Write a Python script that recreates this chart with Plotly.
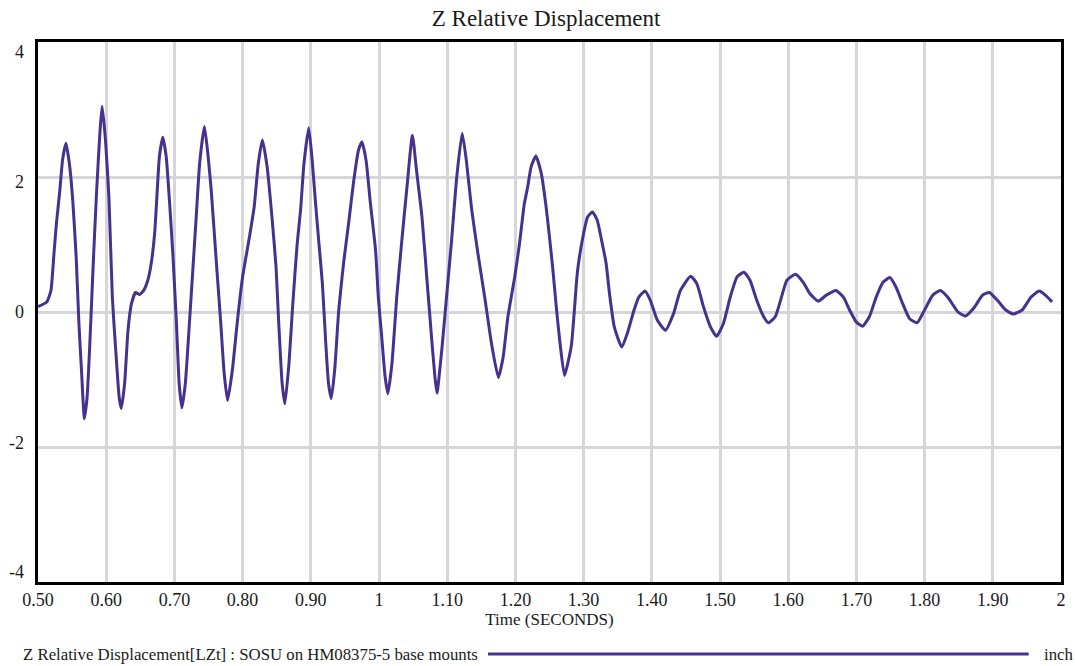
import plotly.graph_objects as go

# Time samples (s) and Z relative displacement (inch)
time_s = [
    0.500, 0.513, 0.519, 0.523, 0.527, 0.532, 0.536, 0.541, 0.546, 0.551,
    0.556, 0.560, 0.564, 0.568, 0.572, 0.576, 0.581, 0.586, 0.591, 0.594,
    0.599, 0.604, 0.609, 0.614, 0.619, 0.622, 0.627, 0.632, 0.637, 0.643,
    0.649, 0.655, 0.661, 0.666, 0.671, 0.674, 0.678, 0.683, 0.688, 0.693,
    0.698, 0.703, 0.707, 0.711, 0.716, 0.722, 0.727, 0.732, 0.737, 0.744,
    0.749, 0.754, 0.761, 0.768, 0.773, 0.778, 0.785, 0.792, 0.800, 0.810,
    0.817, 0.823, 0.829, 0.836, 0.843, 0.849, 0.853, 0.858, 0.862, 0.868,
    0.873, 0.880, 0.885, 0.890, 0.897, 0.902, 0.907, 0.912, 0.917, 0.922,
    0.926, 0.930, 0.935, 0.941, 0.948, 0.956, 0.963, 0.970, 0.975, 0.981,
    0.987, 0.995, 0.999, 1.004, 1.009, 1.013, 1.019, 1.026, 1.033, 1.041,
    1.049, 1.055, 1.063, 1.070, 1.077, 1.082, 1.085, 1.092, 1.099, 1.106,
    1.114, 1.122, 1.128, 1.136, 1.145, 1.155, 1.165, 1.175, 1.182, 1.189,
    1.199, 1.206, 1.213, 1.218, 1.223, 1.230, 1.238, 1.245, 1.250, 1.255,
    1.260, 1.265, 1.272, 1.282, 1.291, 1.299, 1.306, 1.313, 1.320, 1.325,
    1.333, 1.338, 1.345, 1.356, 1.364, 1.374, 1.381, 1.390, 1.398, 1.408,
    1.420, 1.432, 1.442, 1.457, 1.466, 1.476, 1.486, 1.495, 1.505, 1.515,
    1.525, 1.535, 1.544, 1.554, 1.564, 1.571, 1.581, 1.591, 1.598, 1.611,
    1.622, 1.632, 1.644, 1.656, 1.670, 1.681, 1.690, 1.700, 1.709, 1.719,
    1.729, 1.739, 1.749, 1.758, 1.768, 1.778, 1.789, 1.800, 1.812, 1.823,
    1.834, 1.849, 1.860, 1.873, 1.885, 1.895, 1.907, 1.919, 1.930, 1.943,
    1.956, 1.968, 1.977, 1.987,
]
z_disp = [
    0.08, 0.15, 0.32, 0.81, 1.31, 1.80, 2.25, 2.50, 2.20, 1.65,
    0.81, -0.17, -0.91, -1.58, -1.26, -0.47, 0.72, 1.80, 2.69, 3.05,
    2.54, 1.70, 0.22, -0.57, -1.26, -1.43, -1.06, -0.27, 0.12, 0.29,
    0.26, 0.32, 0.47, 0.72, 1.16, 1.65, 2.30, 2.59, 2.30, 1.61,
    0.81, -0.17, -1.06, -1.42, -1.06, -0.17, 0.62, 1.41, 2.20, 2.75,
    2.35, 1.80, 0.81, -0.17, -0.91, -1.31, -0.86, -0.17, 0.52, 1.11,
    1.56, 2.20, 2.55, 2.15, 1.41, 0.67, -0.17, -1.06, -1.36, -0.76,
    0.03, 1.01, 1.51, 2.20, 2.73, 2.25, 1.61, 1.01, 0.42, -0.47,
    -1.06, -1.28, -0.86, 0.03, 0.72, 1.36, 1.95, 2.40, 2.52, 2.25,
    1.65, 0.91, 0.22, -0.37, -0.96, -1.21, -0.76, 0.22, 1.01, 1.85,
    2.62, 2.10, 1.41, 0.52, -0.37, -0.96, -1.20, -0.57, 0.22, 1.01,
    2.00, 2.65, 2.25, 1.51, 0.87, 0.22, -0.47, -0.97, -0.67, -0.07,
    0.52, 1.01, 1.60, 1.85, 2.15, 2.31, 2.05, 1.56, 1.11, 0.62,
    0.07, -0.42, -0.94, -0.50, 0.60, 1.11, 1.41, 1.48, 1.36, 1.13,
    0.72, 0.27, -0.22, -0.52, -0.32, 0.03, 0.22, 0.31, 0.17, -0.12,
    -0.27, -0.02, 0.32, 0.53, 0.42, 0.07, -0.22, -0.36, -0.17, 0.22,
    0.52, 0.59, 0.47, 0.17, -0.07, -0.16, -0.07, 0.25, 0.47, 0.56,
    0.44, 0.27, 0.16, 0.25, 0.32, 0.22, 0.03, -0.15, -0.21, -0.07,
    0.22, 0.44, 0.51, 0.37, 0.12, -0.10, -0.16, 0.03, 0.25, 0.32,
    0.22, 0.00, -0.06, 0.07, 0.25, 0.29, 0.17, 0.03, -0.03, 0.03,
    0.22, 0.31, 0.25, 0.15,
]

x_tick_vals = [0.5, 0.6, 0.7, 0.8, 0.9, 1.0, 1.1, 1.2, 1.3, 1.4, 1.5, 1.6, 1.7, 1.8, 1.9, 2.0]
x_tick_text = ["0.50", "0.60", "0.70", "0.80", "0.90", "1", "1.10", "1.20", "1.30",
               "1.40", "1.50", "1.60", "1.70", "1.80", "1.90", "2"]
y_tick_vals = [-4, -2, 0, 2, 4]
y_tick_text = ["-4", "-2", "0", "2", "4"]
y_label_shift = [10, 4, 0, -5, -10]

series_name = "Z Relative Displacement[LZt] : SOSU on HM08375-5 base mounts"
units = "inch"

LINE_COLOR = "#47318e"
GRID_COLOR = "#d5d5da"
TEXT_COLOR = "#1a1a1a"
FONT = "Liberation Serif"

# plot-area geometry in pixels
FIG_W, FIG_H = 1075, 666
M_L, M_R, M_T, M_B = 38, 9.5, 41.5, 84
PLOT_W = FIG_W - M_L - M_R
PLOT_H = FIG_H - M_T - M_B


def px_to_paper_x(px):
    return (px - M_L) / PLOT_W


def px_to_paper_y(py):
    return (FIG_H - M_B - py) / PLOT_H


fig = go.Figure()
fig.add_trace(go.Scatter(
    x=time_s, y=z_disp, mode="lines",
    line=dict(color=LINE_COLOR, width=3, shape="spline", smoothing=0.5),
    name=series_name, showlegend=False,
))

annotations = []
for v, t, s in zip(y_tick_vals, y_tick_text, y_label_shift):
    annotations.append(dict(
        x=0, xref="paper", y=v, yref="y", text=t, showarrow=False,
        xanchor="right", yanchor="middle", xshift=-12, yshift=s,
        font=dict(family=FONT, size=18, color=TEXT_COLOR),
    ))

# legend row along the bottom
legend_y = px_to_paper_y(655)
annotations.append(dict(
    x=px_to_paper_x(21), xref="paper", y=legend_y, yref="paper",
    text=series_name, showarrow=False, xanchor="left", yanchor="middle",
    font=dict(family=FONT, size=16.8, color=TEXT_COLOR),
))
annotations.append(dict(
    x=px_to_paper_x(1046), xref="paper", y=legend_y, yref="paper",
    text=units, showarrow=False, xanchor="left", yanchor="middle",
    font=dict(family=FONT, size=16.8, color=TEXT_COLOR),
))

fig.update_layout(
    width=FIG_W, height=FIG_H,
    margin=dict(l=M_L, r=M_R, t=M_T, b=M_B),
    paper_bgcolor="white", plot_bgcolor="white",
    title=dict(text="Z Relative Displacement", x=0.508, xref="container",
               y=1 - 18 / FIG_H, yref="container", xanchor="center", yanchor="middle",
               font=dict(family=FONT, size=23, color=TEXT_COLOR)),
    font=dict(family=FONT, size=18, color=TEXT_COLOR),
    annotations=annotations,
    shapes=[dict(type="line", xref="paper", yref="paper",
                 x0=px_to_paper_x(490), x1=px_to_paper_x(1033),
                 y0=px_to_paper_y(654), y1=px_to_paper_y(654),
                 line=dict(color=LINE_COLOR, width=3))],
)
fig.update_xaxes(
    range=[0.5, 2.0], tickvals=x_tick_vals, ticktext=x_tick_text,
    showgrid=True, gridcolor=GRID_COLOR, gridwidth=2.5,
    showline=True, linecolor="black", linewidth=2.6, mirror=True,
    ticks="", zeroline=False,
    tickfont=dict(family=FONT, size=18, color=TEXT_COLOR),
    title=dict(text="Time (SECONDS)", standoff=3,
               font=dict(family=FONT, size=17, color=TEXT_COLOR)),
)
fig.update_yaxes(
    range=[-4, 4], tickvals=y_tick_vals, showticklabels=False,
    showgrid=True, gridcolor=GRID_COLOR, gridwidth=2.5,
    showline=True, linecolor="black", linewidth=2.6, mirror=True,
    ticks="", zeroline=False,
)

fig.write_html("out.html")
